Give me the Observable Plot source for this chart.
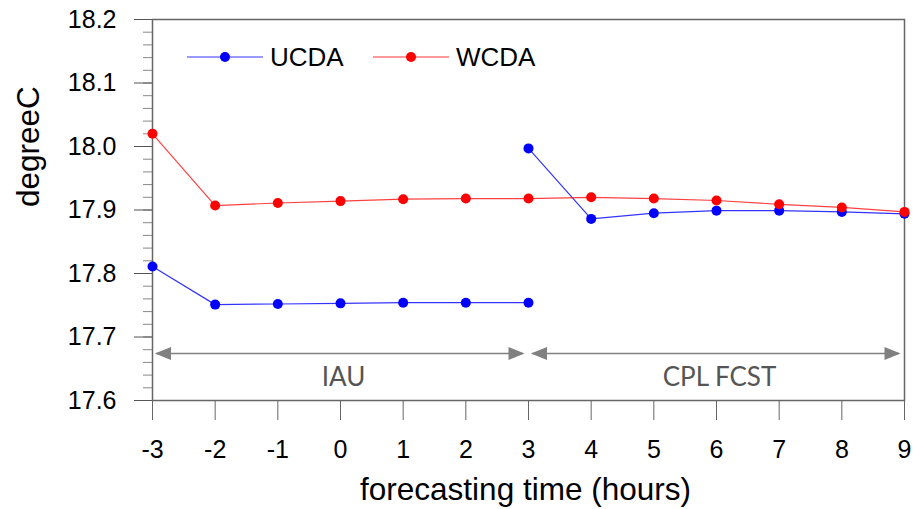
<!DOCTYPE html>
<html>
<head>
<meta charset="utf-8">
<script src="https://cdn.jsdelivr.net/npm/d3@7"></script>
<script src="https://cdn.jsdelivr.net/npm/@observablehq/plot@0.6"></script>
<style>
  html, body { margin: 0; padding: 0; background: #fff; }
  #chart svg { display: block; }
</style>
</head>
<body>
<div id="chart"></div>
<script>
// ---- data ----
const hoursIAU = [-3, -2, -1, 0, 1, 2, 3];
const hoursCPL = [3, 4, 5, 6, 7, 8, 9];
const hoursAll = [-3, -2, -1, 0, 1, 2, 3, 4, 5, 6, 7, 8, 9];
const ucdaIAU = [17.811, 17.751, 17.752, 17.753, 17.754, 17.754, 17.754];
const ucdaCPL = [17.997, 17.886, 17.895, 17.899, 17.899, 17.897, 17.894];
const wcda = [18.020, 17.907, 17.911, 17.914, 17.917, 17.918, 17.918, 17.920, 17.918, 17.915, 17.909, 17.904, 17.897];
const xTicks = [-3, -2, -1, 0, 1, 2, 3, 4, 5, 6, 7, 8, 9];
const yTicks = [17.6, 17.7, 17.8, 17.9, 18.0, 18.1, 18.2];
const seriesNames = ["UCDA", "WCDA"];
const seriesColors = ["#0000ff", "#ff0000"];
const phaseLabels = ["IAU", "CPL FCST"];
const phaseStart = [-3, 3];
const phaseEnd = [3, 9];
const phaseArrowValue = 17.674;
const xLabel = "forecasting time (hours)";
const yLabel = "degreeC";

// ---- tables ----
const ucdaRows = [
  ...hoursIAU.map((h, i) => ({hour: h, value: ucdaIAU[i], seg: "IAU"})),
  ...hoursCPL.map((h, i) => ({hour: h, value: ucdaCPL[i], seg: "CPL"}))
];
const wcdaRows = hoursAll.map((h, i) => ({hour: h, value: wcda[i]}));
const phases = phaseLabels.map((l, i) => ({label: l, start: phaseStart[i], end: phaseEnd[i], mid: (phaseStart[i] + phaseEnd[i]) / 2}));
const yMinor = d3.range(17.6, 18.2001, 0.02);

const arrowHead = {
  draw(ctx) { ctx.moveTo(0, 0); ctx.lineTo(-16, -6.5); ctx.lineTo(-16, 6.5); ctx.closePath(); }
};

const W = 913, H = 509, mL = 152, mR = 9, mT = 19, mB = 109;
const tickFont = "'Liberation Sans', Arial, Helvetica, sans-serif";

const chart = Plot.plot({
  width: W, height: H,
  marginLeft: mL, marginRight: mR, marginTop: mT, marginBottom: mB,
  style: {fontFamily: tickFont, fontSize: "25px", color: "#000", background: "#fff"},
  x: {domain: [-3, 9]},
  y: {domain: [17.6, 18.2]},
  marks: [
    Plot.axisY(yMinor, {tickSize: 9, text: null, stroke: "#888", label: null}),
    Plot.axisY({ticks: yTicks, tickSize: 18, tickPadding: 18, stroke: "#555", tickFormat: d3.format(".1f"), label: null, fill: "#000", fontSize: 25}),
    Plot.axisX({ticks: xTicks, tickSize: 20, tickPadding: 20, stroke: "#666", tickFormat: d => String(d).replace("\u2212", "-"), label: null, fill: "#000", fontSize: 25}),
    Plot.frame({stroke: "#666", strokeWidth: 1.5}),
    // phase arrows
    Plot.arrow(phases, {x1: "start", x2: "end", y1: () => phaseArrowValue, y2: () => phaseArrowValue,
      insetStart: 4, insetEnd: 6, headLength: 0, bend: 0, stroke: "#808080", strokeWidth: 1.5}),
    Plot.dot(phases, {x: "start", y: () => phaseArrowValue, symbol: arrowHead, rotate: 180, dx: 2.5, fill: "#808080", stroke: "none", r: 5}),
    Plot.dot(phases, {x: "end", y: () => phaseArrowValue, symbol: arrowHead, rotate: 0, dx: -4, fill: "#808080", stroke: "none", r: 5}),
    Plot.text(phases, {x: "mid", y: () => phaseArrowValue, text: "label", dy: 32, dx: 3, lineAnchor: "bottom",
      fill: "#555", fontFamily: "Lato, 'Open Sans', sans-serif", fontSize: 26}),
    // series
    Plot.line(ucdaRows, {x: "hour", y: "value", z: "seg", stroke: seriesColors[0], strokeWidth: 1.2, strokeOpacity: 0.8}),
    Plot.line(wcdaRows, {x: "hour", y: "value", stroke: seriesColors[1], strokeWidth: 1.2, strokeOpacity: 0.75}),
    Plot.dot(ucdaRows, {x: "hour", y: "value", r: 5, fill: seriesColors[0]}),
    Plot.dot(wcdaRows, {x: "hour", y: "value", r: 5, fill: seriesColors[1]}),
    // axis titles
    Plot.text([xLabel], {frameAnchor: "bottom", text: d => d, dy: 99, dx: -3, lineAnchor: "bottom", fontSize: 31.5, fill: "#000"}),
    Plot.text([yLabel], {frameAnchor: "left", text: d => d, dx: -114, dy: -3, rotate: -90, lineAnchor: "bottom", fontSize: 31.5, fill: "#000"})
  ]
});
document.getElementById("chart").appendChild(chart);

// ---- legend (inside plot, top-left) ----
const svg = d3.select(chart);
const lg = svg.append("g").style("font-family", tickFont).style("font-size", "26px").attr("text-anchor", "start");
seriesNames.forEach((name, i) => {
  const x0 = mL + 35 + i * 186, y0 = mT + 38;
  const g = lg.append("g");
  g.append("line").attr("x1", x0).attr("x2", x0 + 76).attr("y1", y0).attr("y2", y0)
    .attr("stroke", seriesColors[i]).attr("stroke-width", 1.2).attr("stroke-opacity", 0.8);
  g.append("circle").attr("cx", x0 + 38).attr("cy", y0).attr("r", 5).attr("fill", seriesColors[i]);
  g.append("text").attr("x", x0 + 83).attr("y", y0 + 9).attr("fill", "#000").attr("text-anchor", "start").text(name);
});
</script>
</body>
</html>
